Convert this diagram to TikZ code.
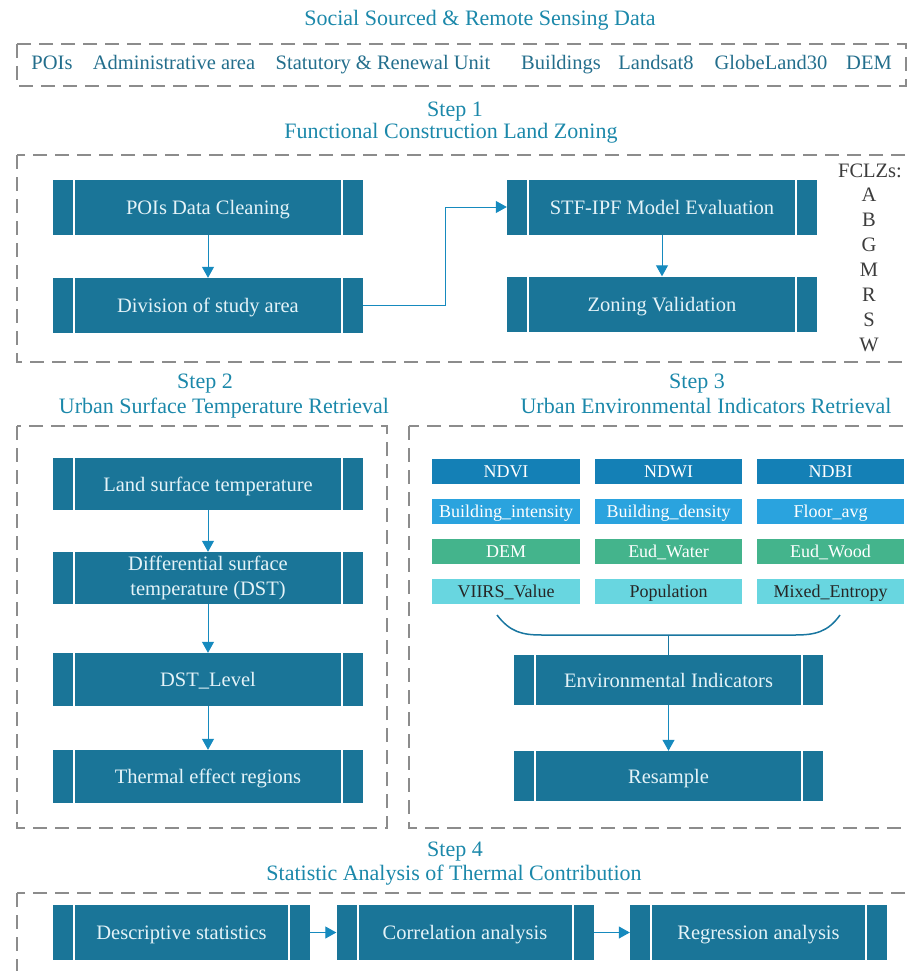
\documentclass[tikz,border=0pt]{standalone}
\usepackage{fontspec}
\setmainfont{Liberation Serif}
\usetikzlibrary{arrows.meta}
\definecolor{boxblue}{RGB}{26,117,152}
\definecolor{boxtext}{RGB}{228,243,248}
\definecolor{arrowblue}{RGB}{22,138,190}
\definecolor{titleteal}{RGB}{27,136,170}
\definecolor{itemteal}{RGB}{35,110,140}
\definecolor{dashgray}{RGB}{140,140,140}
\definecolor{rowA}{RGB}{20,128,182}
\definecolor{rowB}{RGB}{42,163,222}
\definecolor{rowC}{RGB}{68,180,140}
\definecolor{rowD}{RGB}{104,214,224}
\definecolor{bracecol}{RGB}{25,118,160}
\definecolor{lettergray}{RGB}{60,60,60}
\begin{document}
\begin{tikzpicture}[x=1pt,y=-1pt,
  procbox/.style={fill=boxblue, text=boxtext, inner sep=0pt, minimum height=55pt,
    minimum width=310pt, align=center, font=\fontsize{20.5}{25}\selectfont,
    text height=16pt, text depth=2pt,
    path picture={
      \draw[white, line width=2pt] ([xshift=21pt]path picture bounding box.north west) -- ([xshift=21pt]path picture bounding box.south west);
      \draw[white, line width=2pt] ([xshift=-21pt]path picture bounding box.north east) -- ([xshift=-21pt]path picture bounding box.south east);}},
  flow/.style={draw=arrowblue, line width=1pt, -{Triangle[width=12pt,length=11pt]}},
  dbox/.style={draw=dashgray, line width=1.8pt, dash pattern=on 14pt off 8pt},
  ttl/.style={text=titleteal, font=\fontsize{22}{24}\selectfont, inner sep=0pt, text height=15pt, text depth=5pt},
  item/.style={text=itemteal, font=\fontsize{20.5}{24}\selectfont, inner sep=0pt, text height=15pt, text depth=3.5pt},
  letter/.style={text=lettergray, font=\fontsize{20.5}{24}\selectfont, inner sep=0pt, text height=14pt, text depth=4.5pt},
  cell/.style={inner sep=0pt, minimum width=147pt, minimum height=25.5pt, font=\fontsize{18}{20}\selectfont, text height=14pt, text depth=2pt},
]
\useasboundingbox (0,0) rectangle (909,971);
\clip (0,0) rectangle (909,971);

% ---------- top data ----------
\node[ttl] (t0) at (480,21) {Social Sourced \& Remote Sensing Data};
\draw[dbox] (17,44) rectangle (906,86);
\node[item] (d1) at (52,64) {POIs};
\node[item] (d2) at (174,64) {Administrative area};
\node[item] (d3) at (383,64) {Statutory \& Renewal Unit};
\node[item] (d4) at (561,64) {Buildings};
\node[item] (d5) at (656,64) {Landsat8};
\node[item] (d6) at (771,64) {GlobeLand30};
\node[item] (d7) at (869,64) {DEM};

% ---------- step 1 ----------
\node[ttl] (s1a) at (455,112) {Step 1};
\node[ttl] (s1b) at (451,134) {Functional Construction Land Zoning};
\draw[dbox] (17,155) rectangle (914,362);
\node[procbox] (pois) at (208,207) {POIs Data Cleaning};
\node[procbox] (div) at (208,305.5) {Division of study area};
\node[procbox] (stf) at (662,207) {STF-IPF Model Evaluation};
\node[procbox] (zon) at (662,304) {Zoning Validation};
\draw[flow] (pois) -- (div);
\draw[flow] (stf) -- (zon);
\draw[flow] (div.east) -- ++(82,0) |- (stf.west);
\node[letter] (fc) at (870,173) {FCLZs:};
\node[letter] (la) at (869,197) {A};
\node[letter] (lb) at (869,222) {B};
\node[letter] (lg) at (869,247) {G};
\node[letter] (lm) at (869,272) {M};
\node[letter] (lr) at (869,297) {R};
\node[letter] (ls) at (869,322) {S};
\node[letter] (lw) at (869,347) {W};

% ---------- step 2 ----------
\node[ttl] (s2a) at (205,383) {Step 2};
\node[ttl] (s2b) at (224,408) {Urban Surface Temperature Retrieval};
\draw[dbox] (17,426) rectangle (387,828);
\node[procbox, minimum height=52pt] (lst) at (208,484) {Land surface temperature};
\node[procbox, minimum height=52pt, text height={}, text depth={}] (dst) at (208,578) {Differential surface\\temperature (DST)};
\node[procbox, minimum height=53pt] (lvl) at (208,679.5) {DST\_Level};
\node[procbox, minimum height=53pt] (thr) at (208,776.5) {Thermal effect regions};
\draw[flow] (lst) -- (dst);
\draw[flow] (dst) -- (lvl);
\draw[flow] (lvl) -- (thr);

% ---------- step 3 ----------
\node[ttl] (s3a) at (697,383) {Step 3};
\node[ttl] (s3b) at (706,408) {Urban Environmental Indicators Retrieval};
\draw[dbox] (409,426) rectangle (914,828);
\node[cell, fill=rowA, text=white, minimum width=148pt] (c11) at (506,471.5) {NDVI};
\node[cell, fill=rowA, text=white] (c12) at (668.5,471.5) {NDWI};
\node[cell, fill=rowA, text=white] (c13) at (830.5,471.5) {NDBI};
\node[cell, fill=rowB, text=white, minimum width=148pt] (c21) at (506,511.5) {Building\_intensity};
\node[cell, fill=rowB, text=white] (c22) at (668.5,511.5) {Building\_density};
\node[cell, fill=rowB, text=white] (c23) at (830.5,511.5) {Floor\_avg};
\node[cell, fill=rowC, text=white, minimum width=148pt] (c31) at (506,551.5) {DEM};
\node[cell, fill=rowC, text=white] (c32) at (668.5,551.5) {Eud\_Water};
\node[cell, fill=rowC, text=white] (c33) at (830.5,551.5) {Eud\_Wood};
\node[cell, fill=rowD, text=black!85, minimum width=148pt] (c41) at (506,591.5) {VIIRS\_Value};
\node[cell, fill=rowD, text=black!85] (c42) at (668.5,591.5) {Population};
\node[cell, fill=rowD, text=black!85] (c43) at (830.5,591.5) {Mixed\_Entropy};
\node[procbox, minimum height=50pt, minimum width=309pt] (env) at (668.5,680) {Environmental Indicators};
\node[procbox, minimum height=50pt, minimum width=309pt] (res) at (668.5,776) {Resample};
\coordinate (bl) at (497,615);
\coordinate (br) at (840,615);
\coordinate (bmid) at (668.5,635);
\draw[bracecol, line width=1.5pt] (bl) .. controls (510,632) and (522,635) .. (542,635)
  -- (795,635) .. controls (815,635) and (828,632) .. (br);
\draw[bracecol, line width=1.5pt] (bmid) -- (env.north);
\draw[flow] (env) -- (res);

% ---------- step 4 ----------
\node[ttl] (s4a) at (455,851) {Step 4};
\node[ttl] (s4b) at (454,875) {Statistic Analysis of Thermal Contribution};
\draw[dbox] (17,893) rectangle (914,990);
\node[procbox, minimum width=257pt] (desc) at (181.5,932.5) {Descriptive statistics};
\node[procbox, minimum width=257pt] (corr) at (465,932.5) {Correlation analysis};
\node[procbox, minimum width=257pt] (reg) at (758.5,932.5) {Regression analysis};
\draw[flow] (desc) -- (corr);
\draw[flow] (corr) -- (reg);
\end{tikzpicture}
\end{document}
